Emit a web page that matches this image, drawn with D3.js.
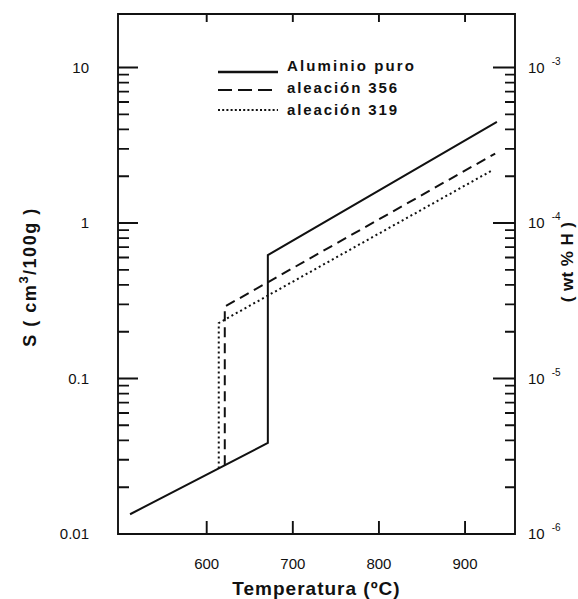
<!DOCTYPE html>
<html>
<head>
<meta charset="utf-8">
<script src="https://cdn.jsdelivr.net/npm/d3@7"></script>
<style>
  body { margin: 0; background: #fff; }
  svg { display: block; }
</style>
</head>
<body>
<svg id="chart" width="578" height="599"></svg>
<script>
// Temperature ticks (°C)
const xTicks = [600, 700, 800, 900];
// Solubility ticks, left axis (cm3/100g) and right axis exponents (wt % H)
const leftTicks = [0.01, 0.1, 1, 10];
const leftTickLabels = ["0.01", "0.1", "1", "10"];
const rightTicks = [1e-6, 1e-5, 1e-4, 1e-3];
const rightTickExps = ["-6", "-5", "-4", "-3"];

// Series: temperature (°C) and hydrogen solubility S (cm3/100g)
const seriesNames = ["Aluminio puro", "aleación 356", "aleación 319"];
const puroT = [511, 671, 671, 937];
const puroS = [0.0134, 0.0385, 0.622, 4.48];
const a356T = [621, 621, 935];
const a356S = [0.0277, 0.29, 2.8];
const a319T = [614, 614, 932];
const a319S = [0.0264, 0.2275, 2.19];

const FONT = "'Liberation Sans', Arial, Helvetica, sans-serif";
const ink = "#111";
const plot = { left: 118, right: 515, top: 14, bottom: 534 };
const svg = d3.select("#chart");

const x = d3.scaleLinear().domain([497, 958]).range([plot.left, plot.right]);
const y = d3.scaleLog().domain([0.01, 22.1]).range([plot.bottom, plot.top]);
const yR = d3.scaleLog().domain([1e-6, 2.21e-3]).range([plot.bottom, plot.top]);

const isDecade = v => Math.abs(Math.log10(v) - Math.round(Math.log10(v))) < 1e-9;
const minorLeft = y.ticks().filter(v => v <= 10.0001 && !isDecade(v));
const minorRight = yR.ticks().filter(v => v <= 1.0001e-3 && !isDecade(v));

// Frame and all inward tick marks as one outline
const frame = d3.path();
frame.rect(plot.left, plot.top, plot.right - plot.left, plot.bottom - plot.top);
function seg(x1, y1, x2, y2) { frame.moveTo(x1, y1); frame.lineTo(x2, y2); }
minorLeft.forEach(v => seg(plot.left, y(v), plot.left + 11, y(v)));
leftTicks.forEach(v => seg(plot.left, y(v), plot.left + 20, y(v)));
minorRight.forEach(v => seg(plot.right - 10, yR(v), plot.right, yR(v)));
rightTicks.forEach(v => seg(plot.right - 22, yR(v), plot.right, yR(v)));
xTicks.forEach(v => seg(x(v), plot.bottom - 13, x(v), plot.bottom));
xTicks.forEach(v => seg(x(v), plot.top, x(v), plot.top + 8));
svg.append("path")
  .attr("d", frame.toString())
  .attr("fill", "none").attr("stroke", ink).attr("stroke-width", 1.9);

// Tick labels
function label(tx, ty, str, anchor) {
  return svg.append("text")
    .attr("x", tx).attr("y", ty)
    .attr("text-anchor", anchor)
    .attr("font-family", FONT).attr("font-size", 15)
    .attr("fill", ink)
    .text(str);
}
leftTicks.forEach((v, i) => label(89, y(v) + 5, leftTickLabels[i], "end"));
rightTicks.forEach((v, i) => {
  label(528, yR(v) + 5, "10", "start")
    .append("tspan").attr("dx", 7).attr("dy", -8).attr("font-size", 10)
    .text(rightTickExps[i]);
});
xTicks.forEach(v => label(x(v), 569, String(v), "middle"));

// Curves
const pathGen = d3.line().x(d => x(d[0])).y(d => y(d[1]));
const series = [
  { T: puroT, S: puroS, dash: null },
  { T: a356T, S: a356S, dash: "10,6" },
  { T: a319T, S: a319S, dash: "2,3" }
];
series.forEach(s => {
  const p = svg.append("path")
    .attr("d", pathGen(s.T.map((t, i) => [t, s.S[i]])))
    .attr("fill", "none")
    .attr("stroke", ink)
    .attr("stroke-width", 2);
  if (s.dash) p.attr("stroke-dasharray", s.dash);
});

// Legend
const legendDash = [null, "14,6", "2,2.2"];
const legendLineY = [72, 90, 110];
const legendTextY = [71, 93, 115];
const legendSpacing = [2.1, 1.9, 1.9];
seriesNames.forEach((name, i) => {
  const l = svg.append("line")
    .attr("x1", 218).attr("x2", 278)
    .attr("y1", legendLineY[i]).attr("y2", legendLineY[i])
    .attr("stroke", ink).attr("stroke-width", i === 0 ? 2.4 : 2.2);
  if (legendDash[i]) l.attr("stroke-dasharray", legendDash[i]);
  svg.append("text")
    .attr("x", 287).attr("y", legendTextY[i])
    .attr("font-family", FONT).attr("font-size", 15).attr("font-weight", "bold")
    .attr("letter-spacing", legendSpacing[i])
    .attr("fill", ink)
    .text(name);
});

// Axis titles
svg.append("text")
  .attr("x", (plot.left + plot.right) / 2).attr("y", 595)
  .attr("text-anchor", "middle")
  .attr("font-family", FONT).attr("font-size", 19).attr("font-weight", "bold")
  .attr("fill", ink).attr("letter-spacing", 1)
  .text("Temperatura (ºC)");

const leftTitle = svg.append("text")
  .attr("transform", "translate(36,277) rotate(-90)")
  .attr("text-anchor", "middle")
  .attr("font-family", FONT).attr("font-size", 18).attr("font-weight", "bold")
  .attr("fill", ink).attr("letter-spacing", 1.5);
leftTitle.append("tspan").text("S ( cm");
leftTitle.append("tspan").attr("font-size", 13).attr("dy", -8).text("3");
leftTitle.append("tspan").attr("dy", 8).text("/100g )");

svg.append("text")
  .attr("transform", "translate(573,262) rotate(-90)")
  .attr("text-anchor", "middle")
  .attr("font-family", FONT).attr("font-size", 17).attr("font-weight", "bold")
  .attr("fill", ink).attr("letter-spacing", 0.4)
  .text("( wt % H )");
</script>
</body>
</html>
